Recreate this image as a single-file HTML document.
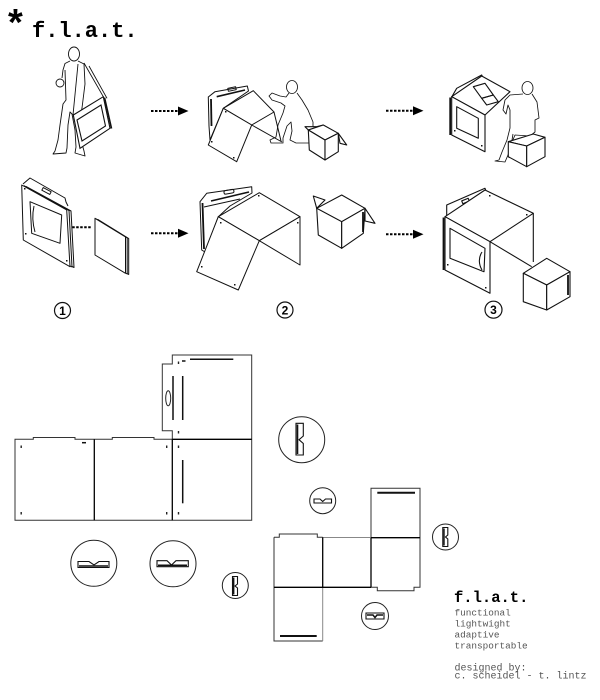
<!DOCTYPE html>
<html><head><meta charset="utf-8"><style>
html,body{margin:0;padding:0;background:#fff;}
svg{display:block;}
</style></head><body>
<svg width="600" height="700" viewBox="0 0 600 700" xmlns="http://www.w3.org/2000/svg">
<rect width="600" height="700" fill="#fff"/>

<!-- Title -->
<text x="8" y="35" font-family="Liberation Sans, sans-serif" font-weight="bold" font-size="38" fill="#000">*</text>
<text x="32" y="37" font-family="Liberation Mono, monospace" font-weight="bold" font-size="22" fill="#000">f.l.a.t.</text>

<!-- Dotted arrows -->
<g stroke="#000" stroke-width="2" stroke-dasharray="2.5,1.5" fill="none">
<line x1="151" y1="111" x2="178" y2="111"/>
<line x1="386" y1="110.7" x2="413" y2="110.7"/>
<line x1="151" y1="233.3" x2="178" y2="233.3"/>
<line x1="386" y1="234.3" x2="413" y2="234.3"/>
<line x1="90.7" y1="227.3" x2="57" y2="227.3"/>
</g>
<g fill="#000">
<polygon points="178,106.5 188.5,111 178,115.5"/>
<polygon points="413,106.2 423.5,110.7 413,115.2"/>
<polygon points="178,228.8 188.5,233.3 178,237.8"/>
<polygon points="413,229.8 423.5,234.3 413,238.8"/>
<polygon points="57.5,222 43.3,227.3 57.5,232.6"/>
</g>

<!-- ROW 1 FIG 1: standing person carrying panel -->
<g fill="none" stroke="#111" stroke-width="0.9" stroke-linejoin="round">
<ellipse cx="74" cy="54" rx="5.5" ry="7"/>
<path d="M70,61 L65,63.5 L63,70 L62,78"/>
<circle cx="60" cy="83" r="4"/>
<path d="M65,70 L66,100 L63,104 L60,125 L58,140 L55,151 L53,154 L66,153 L67,148 L68,125 L70,112 L72,114 L75,130 L76,147 L75,153 L85,156 L84,151 L81,140 L80,118 L82,108 L85,84 L84,64 L78,61"/>
<path d="M84,63 L103.3,96.7 M89,66 L107,98.3 M78,64 L73,115"/>
</g>
<g stroke="#111" stroke-width="1.1">
<polygon points="73.3,115 103.3,96.7 110,128.3 80,148.3" fill="#fff"/>
<polygon points="77,120 101,105 105.5,126 82,141" fill="none"/>
<line x1="104.5" y1="97.5" x2="111.5" y2="128.5" stroke-width="1.6"/>
</g>

<!-- ROW 1 FIG 2: partially assembled + kneeling person + cube -->
<g stroke="#111" stroke-width="1" fill="#fff" stroke-linejoin="round">
<path d="M209,126 L208.3,97 L215,91.7 L247.3,86 L248.5,91 L223.3,108.3 L210,140 Z"/>
<line x1="211" y1="99" x2="211.5" y2="126" stroke-width="1.8"/>
<line x1="216.7" y1="96.7" x2="245" y2="90" stroke-width="1.6"/>
<rect x="228" y="87.5" width="8" height="3" transform="rotate(-12 232 89)" fill="none"/>
<polygon points="223.3,108.3 253.3,90.7 274,112 251.7,125"/>
<polygon points="223.3,108.3 208.3,145 236.7,161.7 251.7,125"/>
<line x1="251.7" y1="125" x2="282" y2="142"/>
<line x1="274" y1="112" x2="281" y2="141"/>
</g>
<g fill="#111"><rect x="211" y="141" width="1.5" height="1.5"/><rect x="233" y="157" width="1.5" height="1.5"/><rect x="225" y="111" width="1.5" height="1.5"/></g>
<g fill="none" stroke="#111" stroke-width="0.85" stroke-linejoin="round">
<ellipse cx="292" cy="87" rx="5.5" ry="6.5"/>
<path d="M289,93 L286,97 L280,96 L272,93 L269,96 L272,100 L281,103 L285,106 L283,113 L278,125 L276,137 L270,140 L271,143 L283,143 L283,138 L287,126 L291,122 L292,131 L290,140 L296,143 L310,143 L313,135 L313,122 L308,110 L302,100 L297,93"/>
</g>
<g stroke="#111" stroke-width="1.1" fill="#fff" stroke-linejoin="round">
<polygon points="308.3,130 305,126.7 316.7,126.7 323.3,125"/>
<polygon points="338.3,133.3 346.7,145 340,143.3"/>
<polygon points="308.3,130 323.3,125 338.3,133.3 325,140"/>
<polygon points="308.3,130 325,140 325,160 309.3,150"/>
<polygon points="325,140 338.3,133.3 338.3,151.7 325,160"/>
</g>

<!-- ROW 1 FIG 3: desk with sitting person -->
<g stroke="#111" stroke-width="1.1" fill="#fff" stroke-linejoin="round">
<path d="M451.7,97 L456.7,88.3 L481.7,75 L483,78" fill="none"/>
<polygon points="451.7,96.7 481.7,76 510,91.7 485,115"/>
<polygon points="451.7,96.7 485,115 485,151.7 451.7,135"/>
<polygon points="456.7,106.7 478.3,118.3 478.3,138.3 456.7,128.3" fill="none"/>
<line x1="450.2" y1="97.5" x2="450.2" y2="135" stroke-width="1.8"/>
<polygon points="473.3,86.7 485,83.3 493.3,95 481.7,98.3" fill="none"/>
<polygon points="481.7,98.3 493.3,95 498.3,101.7 486.7,105" fill="none"/>
</g>
<g fill="#111"><rect x="454" y="130" width="1.5" height="1.5"/><rect x="481" y="145" width="1.5" height="1.5"/></g>
<g fill="none" stroke="#111" stroke-width="0.85" stroke-linejoin="round">
<ellipse cx="527.5" cy="88" rx="5.5" ry="6.5"/>
<path d="M523,94 L510,95 L505,100 L503,110 L506,114 L508,105 L510,110 L510,128 L507,140 L502,152 L499,160 L495,161 L505,162 L508,155 L512,142 L515,135 L530,136 L535,132 L535,120 L539,118 L537,102 L532,94"/>
<path d="M513,134 L509,158"/>
</g>
<g stroke="#111" stroke-width="1.1" fill="#fff" stroke-linejoin="round">
<polygon points="508.3,141.7 533.3,134 545,137.3 526.7,146"/>
<polygon points="508.3,141.7 526.7,146 526.7,166.7 508.3,156.7"/>
<polygon points="526.7,146 545,137.3 545,156.7 526.7,166.7"/>
</g>

<!-- ROW 2 FIG 1: panel stack + small panels -->
<g stroke="#111" stroke-width="1" fill="#fff" stroke-linejoin="round">
<path d="M23,184 L30,178 L65,198 L66,202 L68,206"/>
<rect x="42" y="189.5" width="9" height="3" transform="rotate(28 46.5 191)" fill="none"/>
<polygon points="26,186.5 71,211 74,267.5 27,241.5"/>
<polygon points="24,185.7 69,210.5 72,267 25,240.7"/>
<polygon points="21.7,185 66.7,210 70,266.7 23.3,240"/>
<path d="M30,201.7 L61.7,215 L60,243.3 L31.7,233.3 Z" fill="none"/>
<path d="M34,206 C32,215 33,225 35,232" fill="none"/>
<polygon points="98,219.5 128.7,238.5 128.7,274.5 98,256"/>
<polygon points="96.5,219 127.2,238 127.2,274 96.5,255.5"/>
<polygon points="95,218.3 125.5,237 125.5,273.3 95,255"/>
</g>
<g fill="#111"><rect x="24" y="188" width="1.5" height="1.5"/><rect x="25" y="233" width="1.5" height="1.5"/><rect x="66" y="260" width="1.5" height="1.5"/></g>

<!-- ROW 2 FIG 2 -->
<g stroke="#111" stroke-width="1" fill="#fff" stroke-linejoin="round">
<path d="M201.7,250 L200,201.7 L206.7,193.3 L251.7,186.7 L252,193 L230,206 L218.3,216.7 L205,252 Z"/>
<line x1="202.5" y1="203" x2="204" y2="249" stroke-width="1.8"/>
<line x1="211" y1="201" x2="249" y2="192" stroke-width="1.6"/>
<line x1="204" y1="207" x2="240" y2="199"/>
<rect x="224" y="190" width="10" height="3.5" rx="1.5" transform="rotate(-10 229 192)" fill="none"/>
<polygon points="218.3,216.7 259.3,192.7 300,216.7 259.3,240.7"/>
<polygon points="259.3,240.7 300,216.7 300,265"/>
<polygon points="218.3,216.7 196.7,271.7 238.3,290 259.3,240.7"/>
</g>
<g fill="#111"><rect x="201" y="266" width="1.5" height="1.5"/><rect x="234" y="284" width="1.5" height="1.5"/><rect x="220" y="222" width="1.5" height="1.5"/><rect x="297" y="222" width="1.5" height="1.5"/><rect x="258" y="195" width="1.5" height="1.5"/></g>
<!-- cube row2 -->
<g stroke="#111" stroke-width="1.1" fill="#fff" stroke-linejoin="round">
<polygon points="316.7,208.3 313.3,196 325,200"/>
<polygon points="365,208.3 375,223.3 365,221"/>
<polygon points="316.7,208.3 341.7,195 365,208.3 341.7,221.7"/>
<polygon points="316.7,208.3 341.7,221.7 341.7,248.3 318.3,235"/>
<polygon points="341.7,221.7 365,208.3 363.3,233.3 341.7,248.3"/>
<line x1="363" y1="212" x2="363" y2="232" stroke-width="1.8"/>
</g>

<!-- ROW 2 FIG 3: assembled box + cube -->
<g stroke="#111" stroke-width="1.1" fill="#fff" stroke-linejoin="round">
<path d="M446.7,216 L446.7,205 L485,188.3 L486,191" fill="none"/>
<rect x="462" y="199.5" width="7" height="3" transform="rotate(-22 465.5 201)" fill="none"/>
<polygon points="445,216.7 485,190 533.3,213.3 490,241.7"/>
<line x1="533.3" y1="213.3" x2="533.3" y2="262"/>
<line x1="490" y1="241.7" x2="531.7" y2="266.7"/>
<polygon points="445,216.7 490,241.7 490,293.3 445,270"/>
<line x1="443.5" y1="217.5" x2="443.5" y2="270" stroke-width="1.8"/>
<path d="M450,228.3 L485,248.3 L484,271.7 L450,258.3 Z" fill="none"/>
<path d="M482,252 C478,258 479,265 482,270" fill="none"/>
<polygon points="523.3,273.3 546.7,258.3 570,271.7 546.7,285"/>
<polygon points="523.3,273.3 546.7,285 546.7,310 523.3,301.7"/>
<polygon points="546.7,285 570,271.7 570,296.7 546.7,310"/>
<line x1="568" y1="275" x2="568" y2="295" stroke-width="1.8"/>
</g>
<g fill="#111"><rect x="447" y="264" width="1.5" height="1.5"/><rect x="485" y="287" width="1.5" height="1.5"/><rect x="489" y="195" width="1.5" height="1.5"/><rect x="526" y="214" width="1.5" height="1.5"/></g>

<!-- Circled numbers -->
<g fill="none" stroke="#111" stroke-width="1.2">
<circle cx="62.5" cy="310.5" r="8"/>
<circle cx="285" cy="310" r="8"/>
<circle cx="493.5" cy="309.7" r="8.5"/>
</g>
<g font-family="Liberation Sans, sans-serif" font-weight="bold" font-size="12" text-anchor="middle" fill="#000">
<text x="62.5" y="314.8">1</text>
<text x="285" y="314.3">2</text>
<text x="493.5" y="314">3</text>
</g>

<!-- FLAT PATTERN 1 -->
<g fill="none" stroke="#333" stroke-width="1">
<path d="M15,439.3 L33.3,439.3 L33.3,437.5 L75,437.5 L75,439.3 L112.3,439.3 L112.3,437.5 L154,437.5 L154,439.3 L172.3,439.3 L172.3,430.7 L162.3,430.7 L162.3,364 L172.3,364 L172.3,355 L251.7,355 L251.7,520.3 L15,520.3 Z"/>
</g>
<g stroke="#000" stroke-width="1.3">
<line x1="94.3" y1="439.3" x2="94.3" y2="520.3"/>
<line x1="172.3" y1="439.3" x2="172.3" y2="520.3"/>
<line x1="172.3" y1="439.3" x2="251.7" y2="439.3"/>
</g>
<g stroke="#111" stroke-width="1.5">
<line x1="173" y1="376" x2="173" y2="420"/>
<line x1="182.7" y1="376" x2="182.7" y2="420"/>
<line x1="190" y1="359.3" x2="233.3" y2="359.3"/>
<line x1="182.7" y1="460" x2="182.7" y2="503.3"/>
<line x1="82" y1="442.7" x2="86" y2="442.7"/>
<line x1="182" y1="361" x2="185.5" y2="361"/>
</g>
<ellipse cx="168.2" cy="398.3" rx="2.5" ry="7.5" fill="none" stroke="#222" stroke-width="1"/>
<g fill="#222">
<rect x="20.5" y="445.5" width="1.4" height="2.5"/><rect x="20.5" y="512" width="1.4" height="2.5"/>
<rect x="166" y="445.5" width="1.4" height="2.5"/><rect x="166" y="512" width="1.4" height="2.5"/>
<rect x="177.8" y="445.5" width="1.4" height="2.5"/><rect x="177.8" y="512" width="1.4" height="2.5"/>
<rect x="177.8" y="361.5" width="1.4" height="2.5"/><rect x="177.8" y="431" width="1.4" height="2.5"/>
</g>

<!-- FLAT PATTERN 2 (cube) -->
<g fill="none" stroke="#333" stroke-width="1">
<path d="M274,537.3 L279.3,537.3 L279.3,534 L317.3,534 L317.3,537.3 L322.7,537.3"/>
<path d="M371,537.7 L371,488.3 L420,488.3 L420,587.3 L414,587.3 L414,590.7 L377.3,590.7 L377.3,587.3 L371,587.3"/>
<path d="M322.7,641 L274,641 L274,537.3"/>
</g>
<g stroke="#888" stroke-width="1">
<line x1="322.7" y1="537.5" x2="371" y2="537.5"/>
<line x1="322.7" y1="587.3" x2="322.7" y2="641"/>
</g>
<g stroke="#000" stroke-width="1.3">
<line x1="322.7" y1="537.3" x2="322.7" y2="587.3"/>
<line x1="371" y1="537.7" x2="371" y2="587.3"/>
<line x1="371" y1="537.7" x2="420" y2="537.7"/>
<line x1="274" y1="587.3" x2="371" y2="587.3"/>
</g>
<g stroke="#111" stroke-width="2">
<line x1="377.3" y1="492.7" x2="415" y2="492.7"/>
<line x1="280" y1="636" x2="316.7" y2="636"/>
</g>

<!-- Detail circles -->
<g fill="none" stroke="#222" stroke-width="1">
<circle cx="93.8" cy="563.3" r="23"/>
<circle cx="173" cy="563.8" r="23"/>
<circle cx="235.3" cy="585.5" r="13"/>
<circle cx="301.7" cy="439.7" r="23"/>
<circle cx="322.7" cy="500.7" r="13"/>
<circle cx="375" cy="616" r="13.5"/>
<circle cx="445.5" cy="537" r="13"/>
</g>
<g fill="none" stroke="#111" stroke-width="1.1" stroke-linejoin="miter">
<path d="M78,561.5 L89,561.5 L94,565 L99,561.5 L109,561.5 L109,567.5 L78,567.5 Z"/>
<line x1="79" y1="566" x2="108" y2="566" stroke-width="1.6"/>
<path d="M157,560.7 L167,560.7 L171.5,565 L176,560.7 L188.3,560.7 L188.3,566.7 L157,566.7 Z"/>
<line x1="158" y1="565.3" x2="187" y2="565.3" stroke-width="1.6"/>
<path d="M296,423.3 L303.3,423.3 L303.3,436 L299,439.7 L303.3,443.5 L303.3,455 L296,455 Z"/>
<line x1="297.5" y1="424.5" x2="297.5" y2="454" stroke-width="1.6"/>
<path d="M232.5,576.5 L237.5,576.5 L237.5,584 L235,586 L237.5,588 L237.5,595.5 L232.5,595.5 Z"/>
<line x1="233.7" y1="577.5" x2="233.7" y2="594.5" stroke-width="1.4"/>
<path d="M314,499 L320,499 L322.7,501.5 L325.5,499 L331.5,499 L331.5,503 L314,503 Z"/>
<path d="M366,613 L384,613 L384,619 L366,619 Z"/>
<path d="M367,615 L373,615 L375,617.5 L377,615 L383,615" stroke-width="1.5"/>
<path d="M442.8,527.5 L447.8,527.5 L447.8,535 L445.5,537 L447.8,539 L447.8,546.5 L442.8,546.5 Z"/>
<line x1="444" y1="528.5" x2="444" y2="545.5" stroke-width="1.4"/>
</g>

<!-- Bottom right text -->
<text x="454" y="602" font-family="Liberation Mono, monospace" font-weight="bold" font-size="15.5" fill="#000">f.l.a.t.</text>
<g font-family="Liberation Mono, monospace" font-size="9.4" fill="#555">
<text x="454.5" y="615.3">functional</text>
<text x="454.5" y="626.3">lightwight</text>
<text x="454.5" y="637.3">adaptive</text>
<text x="454.5" y="648.3">transportable</text>
</g>
<g font-family="Liberation Mono, monospace" font-size="10" fill="#555">
<text x="454.5" y="670.7">designed by:</text>
<text x="454.5" y="678.5">c. scheidel - t. lintz</text>
</g>
</svg>
</body></html>
